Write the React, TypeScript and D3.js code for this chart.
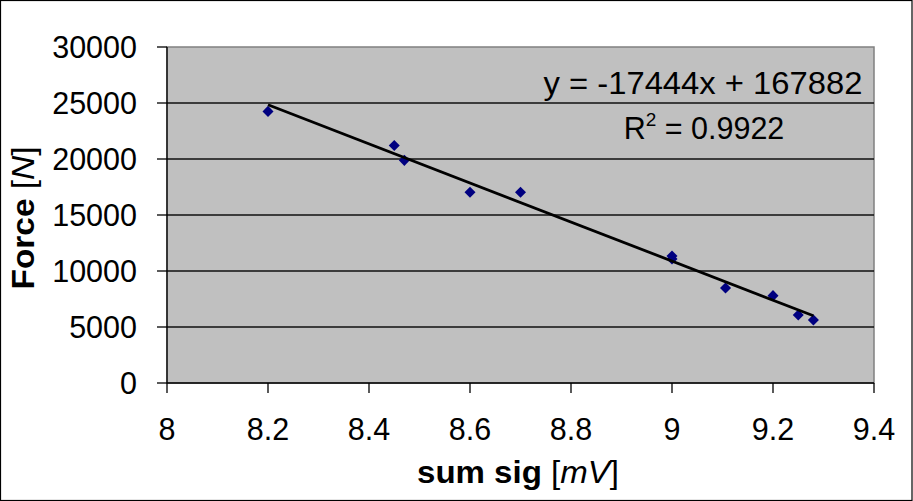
import React from "react";
import * as d3 from "d3";

// Measured signal sum (mV) against applied force (N)
const sumSig = [8.2, 8.45, 8.47, 8.6, 8.7, 9.0, 9.0, 9.106, 9.2, 9.25, 9.28];
const force = [24250, 21200, 19880, 17030, 17030, 11340, 11080, 8480, 7800, 6070, 5620];

// Linear trendline as reported
const slope = -17444;
const intercept = 167882;
const rSquared = "0.9922";

const xTicks = [8, 8.2, 8.4, 8.6, 8.8, 9, 9.2, 9.4];
const yTicks = [0, 5000, 10000, 15000, 20000, 25000, 30000];

const W = 913;
const H = 501;
const plot = { left: 167, right: 874, top: 47, bottom: 383 };
const FONT = "'Liberation Sans', Arial, Helvetica, sans-serif";

export default function App() {
  const x = d3.scaleLinear().domain([8, 9.4]).range([plot.left, plot.right]);
  const y = d3.scaleLinear().domain([0, 30000]).range([plot.bottom, plot.top]);

  const [xMin, xMax] = d3.extent(sumSig) as [number, number];
  const trend = d3
    .line<number>()
    .x((v) => x(v))
    .y((v) => y(slope * v + intercept))([xMin, xMax]);

  const diamond = d3.symbol().type(d3.symbolDiamond2).size(78)();

  return (
    <div style={{ position: "absolute", left: 0, top: 0 }}>
      <svg width={W} height={H} style={{ display: "block", fontFamily: FONT }}>
        <rect x={0} y={0} width={W} height={H} fill="#fff" />
        <rect x={0.5} y={0.5} width={W - 1.5} height={H - 1} fill="none" stroke="#000" strokeWidth={1.2} />

        {/* plot area */}
        <rect
          x={plot.left}
          y={plot.top}
          width={plot.right - plot.left}
          height={plot.bottom - plot.top}
          fill="#C0C0C0"
          stroke="#808080"
          strokeWidth={1.5}
        />

        {/* horizontal gridlines */}
        {yTicks
          .filter((t) => t > 0 && t < 30000)
          .map((t) => (
            <line key={t} x1={plot.left} x2={plot.right} y1={y(t)} y2={y(t)} stroke="#111" strokeWidth={1.3} />
          ))}

        {/* axes */}
        <line x1={plot.left} x2={plot.left} y1={plot.top} y2={plot.bottom} stroke="#000" strokeWidth={1.3} />
        <line x1={plot.left} x2={plot.right} y1={plot.bottom} y2={plot.bottom} stroke="#000" strokeWidth={1.3} />

        {yTicks.map((t) => (
          <g key={t}>
            <line x1={plot.left - 10} x2={plot.left} y1={y(t)} y2={y(t)} stroke="#000" strokeWidth={1.3} />
            <text x={137} y={y(t) + 11} textAnchor="end" fontSize={30.5} fill="#000">
              {t}
            </text>
          </g>
        ))}

        {xTicks.map((t) => (
          <g key={t}>
            <line x1={x(t)} x2={x(t)} y1={plot.bottom} y2={plot.bottom + 10} stroke="#000" strokeWidth={1.3} />
            <text x={x(t)} y={440} textAnchor="middle" fontSize={30.5} fill="#000">
              {String(t)}
            </text>
          </g>
        ))}

        {/* data points */}
        {sumSig.map((v, i) => (
          <path key={i} d={diamond ?? ""} transform={`translate(${x(v)},${y(force[i])})`} fill="#000080" />
        ))}

        {/* trendline */}
        <path d={trend ?? ""} fill="none" stroke="#000" strokeWidth={2.8} />

        {/* equation */}
        <text x={703} y={94} textAnchor="middle" fontSize={30.5} fill="#000" textLength={319} lengthAdjust="spacingAndGlyphs">
          {`y = ${slope}x + ${intercept}`}
        </text>
        <text x={704} y={139} textAnchor="middle" fontSize={30.5} fill="#000">
          R<tspan fontSize={19} dy={-13}>2</tspan>
          <tspan dy={13}>{` = ${rSquared}`}</tspan>
        </text>

        {/* axis titles */}
        <text x={518} y={483} textAnchor="middle" fontSize={30.5} fill="#000" textLength={202} lengthAdjust="spacingAndGlyphs">
          <tspan fontWeight="bold">sum sig </tspan>[<tspan fontStyle="italic">mV</tspan>]
        </text>
        <text
          transform="translate(34,218) rotate(-90)"
          textAnchor="middle"
          fontSize={30.5}
          fill="#000"
          textLength={143}
          lengthAdjust="spacingAndGlyphs"
        >
          <tspan fontWeight="bold">Force </tspan>[<tspan fontStyle="italic">N</tspan>]
        </text>
      </svg>
    </div>
  );
}
